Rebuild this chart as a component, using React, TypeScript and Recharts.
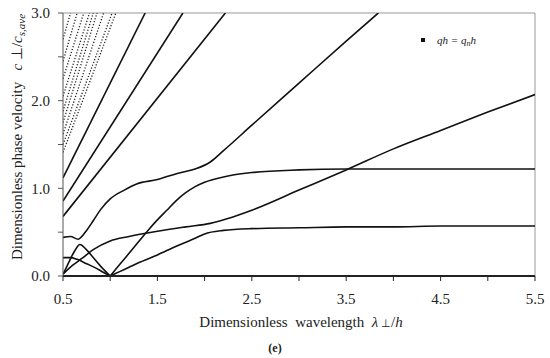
import { LineChart, Line, XAxis, YAxis, ReferenceLine } from 'recharts';

// Dispersion curves, dimensionless wavelength vs dimensionless phase velocity
const xTicks = [0.5, 1.0, 1.5, 2.0, 2.5, 3.0, 3.5, 4.0, 4.5, 5.0, 5.5];
const yTicks = [0, 0.5, 1.0, 1.5, 2.0, 2.5, 3.0];

// lower plateau mode
const lamP = [1.0, 1.1, 1.2, 1.3, 1.5, 1.7, 1.9, 2.0, 2.2, 2.5, 3.0, 3.5, 4.0, 4.5, 5.0, 5.5];
const velP = [0, 0.05, 0.1, 0.15, 0.24, 0.34, 0.43, 0.48, 0.52, 0.54, 0.55, 0.56, 0.56, 0.57, 0.57, 0.57];

// upper plateau mode
const lamQ = [1.0, 1.1, 1.2, 1.3, 1.4, 1.5, 1.6, 1.7, 1.8, 1.9, 2.0, 2.2, 2.5, 3.0, 3.5, 4.0, 4.5, 5.0, 5.5];
const velQ = [0, 0.13, 0.26, 0.39, 0.52, 0.64, 0.75, 0.86, 0.95, 1.02, 1.07, 1.13, 1.18, 1.21, 1.22, 1.22, 1.22, 1.22, 1.22];

// slowly rising mode
const lamR = [0.5, 0.6, 0.7, 0.82, 1.0, 1.2, 1.5, 1.8, 2.06, 2.5, 3.0, 3.5, 4.0, 4.5, 5.0, 5.5];
const velR = [0.02, 0.12, 0.2, 0.3, 0.4, 0.45, 0.51, 0.56, 0.6, 0.75, 0.98, 1.21, 1.45, 1.66, 1.87, 2.07];

// mode with the kink near 2.0
const lamA = [0.5, 0.58, 0.66, 0.75, 0.82, 0.9, 1.0, 1.15, 1.28, 1.5, 1.71, 1.9, 2.06, 2.2, 2.5, 3.0, 3.5, 3.84];
const velA = [0.44, 0.45, 0.42, 0.52, 0.63, 0.76, 0.88, 0.98, 1.05, 1.1, 1.17, 1.22, 1.3, 1.43, 1.72, 2.2, 2.68, 3.0];

// short branches ending at 1.0
const lamT = [0.5, 0.55, 0.62, 0.68, 0.74, 0.82, 0.9, 1.0];
const velT = [0.02, 0.13, 0.28, 0.36, 0.31, 0.21, 0.11, 0];
const lamS = [0.5, 0.58, 0.65, 0.75, 0.85, 0.93, 1.0];
const velS = [0.21, 0.21, 0.19, 0.14, 0.09, 0.04, 0];

// steep straight modes (solid)
const lamL1 = [0.5, 2.22];
const velL1 = [0.68, 3.0];
const lamL2 = [0.5, 1.77];
const velL2 = [0.855, 3.0];
const lamL3 = [0.5, 1.37];
const velL3 = [1.12, 3.0];

// higher modes (dotted fan), start velocity at 0.5 and wavelength where they leave the top
const fanStart = [1.41, 1.5, 1.62, 1.75, 1.88, 2.05, 2.25, 2.45, 2.7];
const fanEnd = [1.06, 1.02, 0.93, 0.86, 0.82, 0.78, 0.72, 0.65, 0.58];

const toPts = (lam: number[], vel: number[]) => lam.map((x, i) => ({ x, y: vel[i] }));

const solid = [
  toPts(lamP, velP),
  toPts(lamQ, velQ),
  toPts(lamR, velR),
  toPts(lamA, velA),
  toPts(lamT, velT),
  toPts(lamS, velS),
  toPts(lamL1, velL1),
  toPts(lamL2, velL2),
  toPts(lamL3, velL3),
];
const dotted = fanStart.map((v, i) => toPts([0.5, fanEnd[i]], [v, 3.0]));

const serif = '"Liberation Serif", "Times New Roman", serif';

export default function App() {
  return (
    <div style={{ position: 'absolute', left: 0, top: 0, width: 550, height: 358, background: '#fff' }}>
      <LineChart width={550} height={358} margin={{ top: 13, right: 15, left: 13, bottom: 52 }}>
        <XAxis
          type="number"
          dataKey="x"
          domain={[0.5, 5.5]}
          ticks={xTicks}
          allowDataOverflow
          tickFormatter={(v: number) => (Math.round(v * 2) % 2 === 1 ? v.toFixed(1) : '')}
          tick={{ fontFamily: serif, fontSize: 15, fill: '#222' }}
          tickSize={5}
          tickMargin={12}
          height={30}
          stroke="#222"
          axisLine={{ stroke: '#222', strokeWidth: 2 }}
        />
        <YAxis
          type="number"
          dataKey="y"
          domain={[0, 3]}
          ticks={yTicks}
          allowDataOverflow
          tickFormatter={(v: number) => (Number.isInteger(v) ? v.toFixed(1) : '')}
          tick={{ fontFamily: serif, fontSize: 15, fill: '#222' }}
          tickSize={5}
          tickMargin={8}
          width={50}
          stroke="#555"
        />
        <ReferenceLine y={3} stroke="#999" strokeWidth={1} />
        <ReferenceLine x={5.5} stroke="#999" strokeWidth={1} />
        {dotted.map((d, i) => (
          <Line
            key={'f' + i}
            data={d}
            dataKey="y"
            type="linear"
            stroke="#222"
            strokeWidth={1.3}
            strokeDasharray="1.2 1.8"
            dot={false}
            isAnimationActive={false}
          />
        ))}
        {solid.map((d, i) => (
          <Line
            key={'s' + i}
            data={d}
            dataKey="y"
            type="monotone"
            stroke="#111"
            strokeWidth={1.6}
            dot={false}
            isAnimationActive={false}
          />
        ))}
      </LineChart>
      <svg width={550} height={358} style={{ position: 'absolute', left: 0, top: 0, pointerEvents: 'none' }}>
        <text transform="translate(22,137) rotate(-90)" textAnchor="middle" fontFamily={serif} fontSize={15} fill="#222">
          Dimensionless phase velocity{'\u00a0\u00a0\u00a0'}
          <tspan fontStyle="italic">c</tspan>
          <tspan> ⊥/</tspan>
          <tspan fontStyle="italic">c</tspan>
          <tspan fontStyle="italic" fontSize={11} dy={3}>s,ave</tspan>
        </text>
        <text x={301} y={327} textAnchor="middle" fontFamily={serif} fontSize={15} fill="#222">
          Dimensionless{'\u00a0'} wavelength{'\u00a0\u00a0'}
          <tspan fontStyle="italic">λ</tspan>
          <tspan fontSize={11}> ⊥</tspan>
          <tspan>/</tspan>
          <tspan fontStyle="italic">h</tspan>
        </text>
        <text x={275} y={352} textAnchor="middle" fontFamily={serif} fontSize={12} fontWeight="bold" fill="#222">
          (e)
        </text>
        <rect x={421} y={38} width={4} height={4} fill="#111" />
        <text x={437} y={44} fontFamily={serif} fontSize={11} fontStyle="italic" fill="#222">
          qh = q
          <tspan fontSize={8} dy={2}>n</tspan>
          <tspan dy={-2}>h</tspan>
        </text>
      </svg>
    </div>
  );
}
